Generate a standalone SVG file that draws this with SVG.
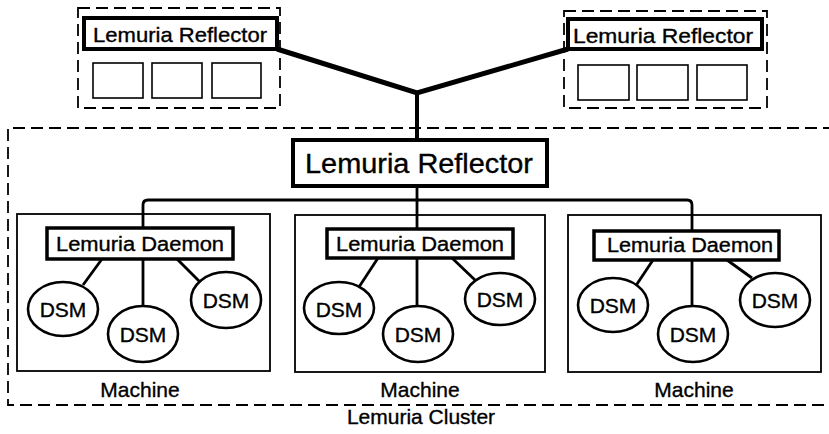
<svg xmlns="http://www.w3.org/2000/svg" width="829" height="434" viewBox="0 0 829 434">
<style>
  text { font-family: "Liberation Sans", Arial, Helvetica, sans-serif; fill: #000; stroke: #000; stroke-width: 0.35; }
  .dash { fill: none; stroke: #000; stroke-width: 1.8; stroke-dasharray: 12 6; }
  .thick { fill: #fff; stroke: #000; stroke-width: 4; }
  .daemon { fill: #fff; stroke: #000; stroke-width: 3.5; }
  .small { fill: #fff; stroke: #000; stroke-width: 1.6; }
  .machine { fill: none; stroke: #000; stroke-width: 1.8; }
  .dsm { fill: #fff; stroke: #000; stroke-width: 2.6; }
  .link { fill: none; stroke: #000; stroke-width: 2.8; }
  .wan { fill: none; stroke: #000; stroke-width: 5; stroke-linejoin: miter; }
  .t20 { font-size: 20px; }
  .t21 { font-size: 21px; }
  .t27 { font-size: 27px; }
</style>

<g id="cluster">
  <path class="dash" d="M 835 128 H 8 V 405 H 835"/>
  <text class="t21" x="421" y="424" text-anchor="middle">Lemuria Cluster</text>
</g>

<g id="machine-1">
  <rect class="machine" x="17" y="214" width="253" height="157"/>
  <text class="t21" x="140" y="397" text-anchor="middle">Machine</text>
</g>
<g id="machine-2">
  <rect class="machine" x="295" y="215" width="250" height="157"/>
  <text class="t21" x="420" y="397" text-anchor="middle">Machine</text>
</g>
<g id="machine-3">
  <rect class="machine" x="568" y="215" width="253" height="157"/>
  <text class="t21" x="694" y="397" text-anchor="middle">Machine</text>
</g>

<g id="remote-left">
  <rect class="dash" x="78" y="8" width="202" height="100"/>
  <rect class="thick" x="84" y="18" width="193" height="31"/>
  <text class="t21" x="93" y="42" textLength="174" lengthAdjust="spacingAndGlyphs">Lemuria Reflector</text>
  <rect class="small" x="93" y="63" width="50" height="35"/>
  <rect class="small" x="152" y="63" width="50" height="35"/>
  <rect class="small" x="212" y="63" width="49" height="35"/>
</g>

<g id="remote-right">
  <rect class="dash" x="564" y="11" width="203" height="97"/>
  <rect class="thick" x="568" y="19" width="194" height="30"/>
  <text class="t21" x="573" y="43" textLength="180" lengthAdjust="spacingAndGlyphs">Lemuria Reflector</text>
  <rect class="small" x="578" y="65" width="51" height="35"/>
  <rect class="small" x="637" y="65" width="51" height="35"/>
  <rect class="small" x="697" y="65" width="50" height="35"/>
</g>

<g id="connectors">
  <path class="wan" d="M 277 49 L 417 93 L 568 49"/>
  <path class="wan" d="M 417 92 V 140" style="stroke-width:4"/>
  <path class="link" d="M 417 186 V 201"/>
  <path class="link" d="M 143 228 V 205 Q 143 200 148 200 H 687 Q 692 200 692 205 V 230"/>
  <path class="link" d="M 417 200 V 229"/>
  <path class="link" d="M 102 259 L 83 285"/>
  <path class="link" d="M 143 259 V 306"/>
  <path class="link" d="M 177 259 L 200 282"/>
  <path class="link" d="M 378 258 L 359 287"/>
  <path class="link" d="M 417 258 V 306"/>
  <path class="link" d="M 452 258 L 475 280"/>
  <path class="link" d="M 653 260 L 635 287"/>
  <path class="link" d="M 692 260 V 306"/>
  <path class="link" d="M 727 260 L 752 278"/>
</g>

<g id="main-reflector">
  <rect class="thick" x="293" y="140" width="254" height="46"/>
  <text class="t27" x="305" y="173" textLength="228" lengthAdjust="spacingAndGlyphs">Lemuria Reflector</text>
</g>

<g id="daemon-1">
  <rect class="daemon" x="47" y="228" width="186" height="31"/>
  <text class="t20" x="56" y="251" textLength="168" lengthAdjust="spacingAndGlyphs">Lemuria Daemon</text>
</g>
<g id="daemon-2">
  <rect class="daemon" x="327" y="229" width="186" height="29"/>
  <text class="t20" x="336" y="251" textLength="168" lengthAdjust="spacingAndGlyphs">Lemuria Daemon</text>
</g>
<g id="daemon-3">
  <rect class="daemon" x="594" y="231" width="185" height="29"/>
  <text class="t20" x="607" y="252" textLength="166" lengthAdjust="spacingAndGlyphs">Lemuria Daemon</text>
</g>

<g id="dsm-1a"><ellipse class="dsm" cx="63" cy="309" rx="35" ry="27"/><text class="t21" x="63" y="317" text-anchor="middle">DSM</text></g>
<g id="dsm-1b"><ellipse class="dsm" cx="143" cy="334" rx="35" ry="28"/><text class="t21" x="143" y="342" text-anchor="middle">DSM</text></g>
<g id="dsm-1c"><ellipse class="dsm" cx="226" cy="300" rx="35" ry="28"/><text class="t21" x="226" y="308" text-anchor="middle">DSM</text></g>

<g id="dsm-2a"><ellipse class="dsm" cx="339" cy="308" rx="35" ry="26"/><text class="t21" x="339" y="317" text-anchor="middle">DSM</text></g>
<g id="dsm-2b"><ellipse class="dsm" cx="418" cy="334" rx="35" ry="28"/><text class="t21" x="418" y="342" text-anchor="middle">DSM</text></g>
<g id="dsm-2c"><ellipse class="dsm" cx="500" cy="299" rx="35" ry="26"/><text class="t21" x="500" y="307" text-anchor="middle">DSM</text></g>

<g id="dsm-3a"><ellipse class="dsm" cx="613" cy="305" rx="35" ry="27"/><text class="t21" x="613" y="313" text-anchor="middle">DSM</text></g>
<g id="dsm-3b"><ellipse class="dsm" cx="693" cy="334" rx="35" ry="28"/><text class="t21" x="693" y="342" text-anchor="middle">DSM</text></g>
<g id="dsm-3c"><ellipse class="dsm" cx="775" cy="300" rx="35" ry="27"/><text class="t21" x="775" y="308" text-anchor="middle">DSM</text></g>
</svg>
